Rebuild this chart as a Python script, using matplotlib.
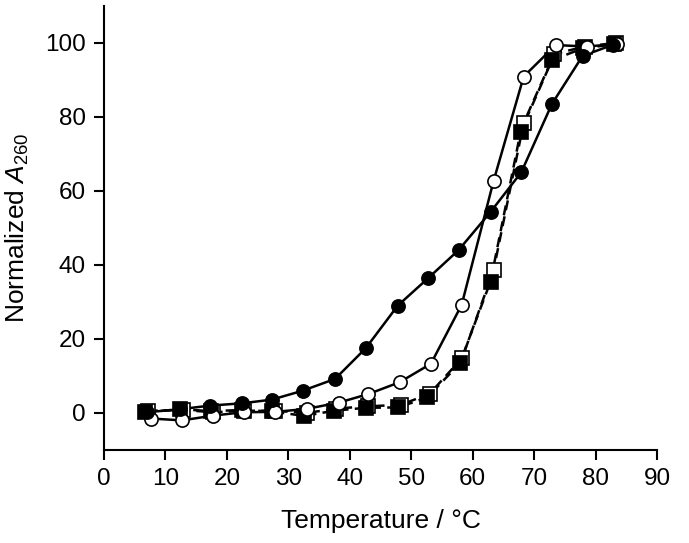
import matplotlib
matplotlib.use("Agg")
import matplotlib.pyplot as plt

plt.rcParams["font.family"] = ["Liberation Sans", "DejaVu Sans"]
plt.rcParams["mathtext.fontset"] = "custom"
plt.rcParams["mathtext.rm"] = "Liberation Sans"
plt.rcParams["mathtext.it"] = "Liberation Sans:italic"
plt.rcParams["font.size"] = 17.5

# melting curves (temperature in deg C, normalized A260)
fc_t = [7.0, 12.3, 17.3, 22.4, 27.3, 32.3, 37.6, 42.6, 47.8, 52.8, 57.7, 62.9, 67.9, 72.9, 77.9, 82.9]
fc_y = [0.2, 1.0, 2.0, 2.6, 3.6, 6.0, 9.2, 17.5, 29.0, 36.5, 44.0, 54.3, 65.0, 83.5, 96.5, 99.5]

oc_t = [7.6, 12.7, 17.8, 22.7, 27.9, 33.0, 38.2, 43.0, 48.1, 53.2, 58.2, 63.4, 68.3, 73.5, 78.6, 83.5]
oc_y = [-1.5, -2.0, -0.7, 0.2, 0.3, 1.1, 2.8, 5.1, 8.3, 13.3, 29.2, 62.7, 90.9, 99.4, 99.0, 99.7]

fs_t = [6.6, 12.4, 17.4, 22.4, 27.4, 32.6, 37.4, 42.6, 47.9, 52.6, 57.9, 62.9, 67.8, 72.9, 77.9, 83.0]
fs_y = [0.2, 1.0, 0.5, 0.8, 0.4, -0.8, 0.6, 1.4, 1.5, 4.2, 13.4, 35.5, 76.0, 95.3, 98.5, 99.6]

os_t = [7.1, 12.8, 17.8, 22.8, 27.8, 33.0, 37.8, 43.0, 48.3, 53.0, 58.3, 63.4, 68.3, 73.3, 78.3, 83.4]
os_y = [0.6, 0.8, 0.2, 0.6, 0.6, 0.0, 1.2, 1.8, 2.2, 5.2, 14.9, 38.6, 78.4, 97.0, 99.0, 100.0]

fig = plt.figure(figsize=(6.89, 5.43), dpi=100)
ax = fig.add_axes([0.1510, 0.1713, 0.8026, 0.818])

ms = 9.5
dash = (0, (4, 2.5))
ax.plot(fs_t, fs_y, color="k", lw=1.8, linestyle=dash, zorder=2)
ax.plot(os_t, os_y, color="k", lw=1.8, linestyle=dash, zorder=2)
ax.plot(oc_t, oc_y, color="k", lw=1.8, zorder=2)
ax.plot(fc_t, fc_y, color="k", lw=1.8, zorder=2)

ax.plot(os_t, os_y, "s", ms=ms, mfc="white", mec="k", mew=1.2, zorder=3)
ax.plot(fs_t, fs_y, "s", ms=ms, mfc="k", mec="k", mew=1.2, zorder=4)
ax.plot(oc_t, oc_y, "o", ms=ms, mfc="white", mec="k", mew=1.2, zorder=5)
ax.plot(fc_t, fc_y, "o", ms=ms, mfc="k", mec="k", mew=1.2, zorder=6)

ax.set_xlim(0, 90)
ax.set_ylim(-10, 110)
ax.set_xticks(range(0, 91, 10))
ax.set_yticks(range(0, 101, 20))

for side in ["top", "right"]:
    ax.spines[side].set_visible(False)
for side in ["left", "bottom"]:
    ax.spines[side].set_linewidth(1.5)
ax.spines["bottom"].set_bounds(0, 90)
ax.tick_params(direction="out", length=7, width=1.5, pad=6)

ax.set_xlabel("Temperature / \u00b0C", fontsize=19, labelpad=14)
ax.set_ylabel(r"Normalized $\mathit{A}_{\mathrm{260}}$", fontsize=19, labelpad=10)

plt.savefig("out.png")
